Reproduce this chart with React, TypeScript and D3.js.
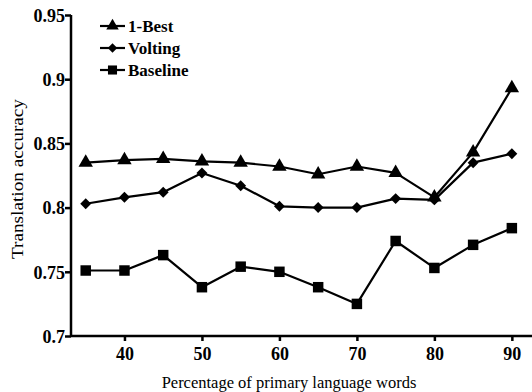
import React, { useRef, useEffect } from 'react';
import * as d3 from 'd3';

const percents = [35, 40, 45, 50, 55, 60, 65, 70, 75, 80, 85, 90];
const bestValues = [0.835, 0.837, 0.838, 0.836, 0.835, 0.832, 0.826, 0.832, 0.827, 0.808, 0.843, 0.893];
const voltingValues = [0.803, 0.808, 0.812, 0.827, 0.817, 0.801, 0.8, 0.8, 0.807, 0.806, 0.835, 0.842];
const baselineValues = [0.751, 0.751, 0.763, 0.738, 0.754, 0.75, 0.738, 0.725, 0.774, 0.753, 0.771, 0.784];
const xTicks = [40, 50, 60, 70, 80, 90];
const yTicks = [0.7, 0.75, 0.8, 0.85, 0.9, 0.95];
const seriesNames = ['1-Best', 'Volting', 'Baseline'];

const width = 532;
const height = 392;
const font = 'Liberation Serif, DejaVu Serif, serif';

const App: React.FC = () => {
  const svgRef = useRef<SVGSVGElement>(null);

  useEffect(() => {
    const root = d3.select(svgRef.current);
    root.selectAll('*').remove();

    const left = 71, right = 532, top = 15, bottom = 336;
    const x = d3.scaleLinear().domain([33.1, 92.6]).range([left, right]);
    const y = d3.scaleLinear().domain([0.7, 0.95]).range([bottom, top]);

    const series = [
      { name: seriesNames[0], values: bestValues, symbol: d3.symbolTriangle, size: 90, rot: 0 },
      { name: seriesNames[1], values: voltingValues, symbol: d3.symbolSquare, size: 60, rot: 45 },
      { name: seriesNames[2], values: baselineValues, symbol: d3.symbolSquare, size: 110, rot: 0 },
    ];

    const line = d3.line<number>()
      .x((_, i) => x(percents[i]))
      .y(d => y(d));

    // lines (baseline first so others sit on top)
    [...series].reverse().forEach(s => {
      root.append('path')
        .attr('d', line(s.values))
        .attr('fill', 'none')
        .attr('stroke', '#000')
        .attr('stroke-width', 2.2)
        .attr('stroke-linejoin', 'round');
      root.selectAll(null)
        .data(s.values)
        .enter()
        .append('path')
        .attr('d', d3.symbol(s.symbol, s.size)())
        .attr('transform', (d, i) => `translate(${x(percents[i])},${y(d)}) rotate(${s.rot})`)
        .attr('fill', '#000');
    });

    // axes
    const yAxis = root.append('g')
      .attr('transform', `translate(${left},0)`)
      .call(d3.axisLeft(y).tickValues(yTicks).tickSize(6).tickFormat(d => String(d)));
    const xAxis = root.append('g')
      .attr('transform', `translate(0,${bottom})`)
      .call(d3.axisBottom(x).tickValues(xTicks).tickSize(5).tickFormat(d => String(d)));

    [yAxis, xAxis].forEach(a => {
      a.attr('font-family', font).attr('font-size', 18).attr('font-weight', 'bold');
      a.select('.domain').attr('stroke', '#000').attr('stroke-width', 2.5);
      a.selectAll('.tick line').attr('stroke', '#000').attr('stroke-width', 2.5);
      a.selectAll('.tick text').attr('fill', '#000');
    });
    xAxis.select('.domain').attr('d', `M${left},0H${right}`);
    yAxis.select('.domain').attr('d', `M0,${top}V${bottom}`);
    yAxis.selectAll('.tick text').attr('x', -6).attr('dy', '0.35em');
    xAxis.selectAll('.tick text').attr('y', 11);

    // axis titles
    root.append('text')
      .attr('transform', `translate(23,179) rotate(-90)`)
      .attr('text-anchor', 'middle')
      .attr('font-family', font)
      .attr('font-size', 16.5)
      .attr('textLength', 160)
      .attr('lengthAdjust', 'spacingAndGlyphs')
      .text('Translation accuracy');
    root.append('text')
      .attr('x', 289)
      .attr('y', 388)
      .attr('text-anchor', 'middle')
      .attr('font-family', font)
      .attr('font-size', 16.5)
      .text('Percentage of primary language words');

    // legend
    const legend = root.append('g').attr('transform', 'translate(100,26)');
    series.forEach((s, i) => {
      const g = legend.append('g').attr('transform', `translate(0,${i * 22})`);
      g.append('line')
        .attr('x1', 0).attr('x2', 25)
        .attr('stroke', '#000').attr('stroke-width', 2.2);
      g.append('path')
        .attr('d', d3.symbol(s.symbol, s.size * 0.75)())
        .attr('transform', `translate(12.5,0) rotate(${s.rot})`)
        .attr('fill', '#000');
      g.append('text')
        .attr('x', 28)
        .attr('dy', '0.35em')
        .attr('font-family', font)
        .attr('font-size', 17)
        .attr('font-weight', 'bold')
        .text(s.name);
    });
  }, []);

  return <svg ref={svgRef} width={width} height={height} style={{ display: 'block', position: 'absolute', left: 0, top: 0 }} />;
};

export default App;
